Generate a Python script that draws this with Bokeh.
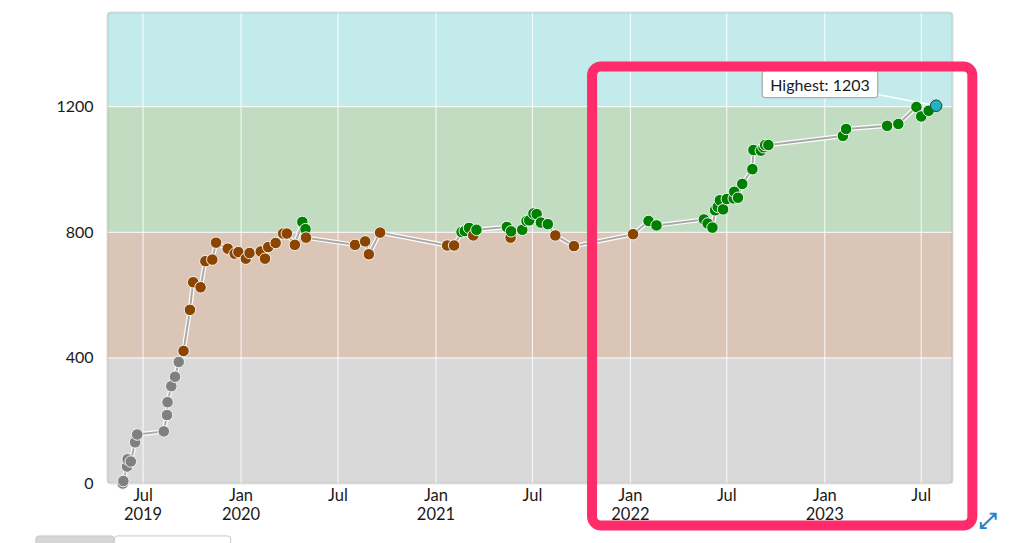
import pandas as pd
from bokeh.plotting import figure
from bokeh.models import (Label, BoxAnnotation, FixedTicker, Range1d,
                          ColumnDataSource)
from bokeh.embed import file_html
from bokeh.resources import INLINE

# ---------------- data ----------------
dates = [
    "2019-05-24", "2019-05-25", "2019-06-01", "2019-06-02", "2019-06-08", "2019-06-16", "2019-06-20",
    "2019-08-09", "2019-08-15", "2019-08-16", "2019-08-23", "2019-08-30", "2019-09-06", "2019-09-15",
    "2019-09-27", "2019-10-03", "2019-10-17", "2019-10-26", "2019-11-08", "2019-11-15", "2019-12-07",
    "2019-12-20", "2019-12-27", "2020-01-10", "2020-01-17", "2020-02-07", "2020-02-15", "2020-02-21",
    "2020-03-06", "2020-03-20", "2020-03-27", "2020-04-11", "2020-04-25", "2020-05-01", "2020-05-02",
    "2020-08-02", "2020-08-21", "2020-08-28", "2020-09-18",
    "2021-01-22", "2021-02-04", "2021-02-18", "2021-02-24", "2021-03-04", "2021-03-12", "2021-03-18",
    "2021-05-14", "2021-05-21", "2021-05-22", "2021-06-12", "2021-06-20", "2021-06-25", "2021-07-03",
    "2021-07-09", "2021-07-17", "2021-07-30", "2021-08-13", "2021-09-17",
    "2022-01-06", "2022-02-04", "2022-02-19", "2022-05-19", "2022-05-26", "2022-06-04", "2022-06-09",
    "2022-06-14", "2022-06-18", "2022-06-24", "2022-07-01", "2022-07-14", "2022-07-15", "2022-07-22",
    "2022-07-30", "2022-08-18", "2022-08-20", "2022-09-03", "2022-09-08", "2022-09-11", "2022-09-17",
    "2023-02-04", "2023-02-10", "2023-04-28", "2023-05-19", "2023-06-22", "2023-07-01", "2023-07-15",
    "2023-07-29",
]
values = [
    0, 8, 54, 77, 70, 131, 156,
    166, 218, 259, 310, 340, 387, 422,
    553, 641, 625, 708, 713, 767, 748,
    732, 737, 716, 734, 739, 716, 753,
    766, 796, 796, 760, 833, 810, 783,
    760, 771, 730, 799,
    758, 758, 801, 804, 814, 790, 808,
    817, 783, 803, 808, 836, 838, 860,
    858, 831, 826, 790, 756,
    794, 836, 822, 841, 828, 815, 870,
    881, 902, 873, 906, 908, 929, 910,
    954, 1001, 1062, 1060, 1071, 1078, 1078,
    1107, 1129, 1139, 1145, 1199, 1169, 1187,
    1203,
]

band_bottom = [0, 400, 800, 1200]
band_top = [400, 800, 1200, 1500]
band_fill = ["#d9d9d9", "#dbc5b6", "#c1dcc0", "#c4ebeb"]
point_fill = ["#808080", "#8b4500", "#008000", "#22b4bf"]

y_ticks = [0, 400, 800, 1200]
x_tick_dates = ["2019-07-01", "2020-01-01", "2020-07-01", "2021-01-01", "2021-07-01",
                "2022-01-01", "2022-07-01", "2023-01-01", "2023-07-01"]
x_tick_labels = ["Jul\n2019", "Jan\n2020", "Jul", "Jan\n2021", "Jul",
                 "Jan\n2022", "Jul", "Jan\n2023", "Jul"]
highest_text = "Highest: 1203"

# ---------------- helpers ----------------
def ms(s):
    return pd.Timestamp(s).value // 10**6

# data limits of the plotting area
X0, X1 = ms("2019-04-25 06:00"), ms("2023-08-28 18:00")
Y0, Y1 = 0, 1500
# canvas and plotting-area geometry in page pixels
CW, CH = 1008, 543
AL, AT, AW, AH = 107, 12, 845, 471
AR, AB = AL + AW, AT + AH
KX = (X1 - X0) / AW   # data units per pixel
KY = (Y1 - Y0) / AH

def px_x(px):
    return X0 + (px - AL) * KX

def px_y(py):
    return Y0 + (AB - py) * KY

def sx(px):  # screen units (frame = whole canvas)
    return px

def sy(py):
    return CH - py

def band_index(v):
    for i, (b, t) in enumerate(zip(band_bottom, band_top)):
        if b <= v < t:
            return i
    return len(band_bottom) - 1

xs = [ms(d) for d in dates]
hi = max(range(len(values)), key=lambda i: values[i])
colors = [point_fill[band_index(v)] for v in values]
edge = ["#f2f2f2"] * len(values)
edge[hi] = "#1f3a3d"

src = ColumnDataSource(dict(x=xs, y=values, c=colors, e=edge))

# ---------------- figure ----------------
p = figure(x_axis_type="datetime",
           x_range=Range1d(px_x(0), px_x(CW)), y_range=Range1d(px_y(CH), px_y(0)),
           frame_width=CW, frame_height=CH, min_border=0,
           output_backend="svg", toolbar_location=None, tools="",
           background_fill_color="white", border_fill_color="white")
p.outline_line_color = None
p.xgrid.visible = False
p.ygrid.visible = False

# plotting area bands
for b, t, f in zip(band_bottom, band_top, band_fill):
    p.add_layout(BoxAnnotation(left=X0, right=X1, bottom=b, top=t, fill_color=f,
                               fill_alpha=1.0, line_color=None, level="image"))

xt = [ms(d) for d in x_tick_dates]
# grid lines drawn inside the plotting area only
p.segment(x0=xt, y0=[Y0] * len(xt), x1=xt, y1=[Y1] * len(xt),
          line_color="white", line_width=1, line_alpha=0.9, level="underlay")
p.segment(x0=[X0] * len(y_ticks), y0=y_ticks, x1=[X1] * len(y_ticks), y1=y_ticks,
          line_color="white", line_width=1, line_alpha=0.9, level="underlay")
# plotting area outline
p.add_layout(BoxAnnotation(left=X0, right=X1, bottom=Y0, top=Y1, fill_alpha=0,
                           line_color="#9a9a9a", line_width=2, border_radius=4,
                           level="underlay"))

p.xaxis.ticker = FixedTicker(ticks=xt)
p.xaxis.major_label_overrides = {t: l for t, l in zip(xt, x_tick_labels)}
p.xaxis.fixed_location = Y0
p.yaxis.ticker = FixedTicker(ticks=y_ticks)
p.yaxis.fixed_location = X0

for ax in (p.xaxis, p.yaxis):
    ax.axis_line_color = None
    ax.major_tick_line_color = None
    ax.minor_tick_line_color = None
    ax.major_tick_out = 0
    ax.major_tick_in = 0
    ax.major_label_text_font = "Lato"
    ax.major_label_text_font_size = "16px"
    ax.major_label_text_color = "#1a1a1a"
p.xaxis.major_label_text_font_size = "16.5px"
p.xaxis.major_label_text_line_height = 0.95
p.yaxis.major_label_standoff = 14
p.xaxis.major_label_standoff = 1

# callout connector
p.segment(x0=[px_x(877)], y0=[px_y(94)], x1=[xs[hi]], y1=[values[hi]],
          line_color="white", line_width=1.5)

# series line
p.line(xs, values, line_color="white", line_width=4.5, line_alpha=0.95)
p.line(xs, values, line_color="#a9a9a9", line_width=2)
p.scatter("x", "y", source=src, size=11.5, fill_color="c", line_color="e", line_width=1)

# Highest label
p.add_layout(Label(x=px_x(819.5), y=px_y(83.7), text=highest_text,
                   text_align="center", text_baseline="middle",
                   text_font="Lato", text_font_size="16px", text_color="#1a1a1a",
                   background_fill_color="white", border_line_color="#9a9a9a",
                   border_line_width=1, border_radius=3, padding=(8, 4)))

# red highlight rectangle
p.add_layout(Label(x=sx((591.7 + 971.7) / 2), y=sy((65.7 + 525.3) / 2), text=" ",
                   x_units="screen", y_units="screen", level="overlay",
                   text_align="center", text_baseline="middle", text_font_size="1px",
                   background_fill_alpha=0, border_line_color="#fe2c6a",
                   border_line_width=10, border_radius=9, padding=(190, 229)))

# expand icon
p.add_layout(Label(x=sx(987), y=sy(520), text="\u2922", text_align="center",
                   x_units="screen", y_units="screen", level="overlay",
                   text_baseline="middle", text_font="DejaVu Sans", text_font_size="22px",
                   text_font_style="bold", text_color="#2f80c4"))

# partially visible buttons at bottom left
p.add_layout(Label(x=sx(74.5), y=sy(552), text=" ", text_align="center",
                   x_units="screen", y_units="screen", level="overlay",
                   text_baseline="middle", text_font_size="1px",
                   background_fill_color="#d6d6d6", border_line_color="#c8c8c8",
                   border_line_width=1, border_radius=3, padding=(39, 16)))
p.add_layout(Label(x=sx(172), y=sy(552), text=" ", text_align="center",
                   x_units="screen", y_units="screen", level="overlay",
                   text_baseline="middle", text_font_size="1px",
                   background_fill_color="white", border_line_color="#c8c8c8",
                   border_line_width=1, border_radius=3, padding=(58, 16)))

open("out.html", "w").write(file_html(p, INLINE))
